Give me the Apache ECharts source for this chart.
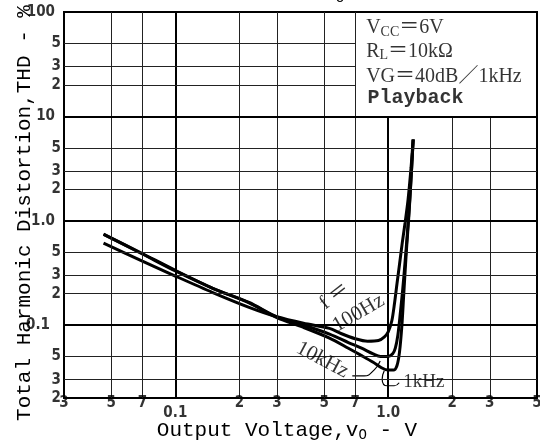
<!DOCTYPE html>
<html>
<head>
<meta charset="utf-8">
<script src="https://cdn.jsdelivr.net/npm/echarts@6/dist/echarts.min.js"></script>
<style>
  html, body { margin: 0; padding: 0; background: #fff; }
  #chart { width: 540px; height: 447px; }
</style>
</head>
<body>
<div id="chart"></div>
<script>
// Axis tick positions and the text printed beside them
const xTickValues = [0.03, 0.05, 0.07, 0.1, 0.2, 0.3, 0.5, 0.7, 1, 2, 3, 5];
const xTickLabels = ['3', '5', '7', '0.1', '2', '3', '5', '7', '1.0', '2', '3', '5'];
const yTickValues = [0.02, 0.03, 0.05, 0.1, 0.2, 0.3, 0.5, 1, 2, 3, 5, 10, 20, 30, 50, 100];
const yTickLabels = ['2', '3', '5', '0.1', '2', '3', '5', '1.0', '2', '3', '5', '10', '2', '3', '5', '100'];
const decadeValues = [0.1, 1, 10, 100];

// THD (%) against output voltage (V) for each test frequency
const curve100Hz = [
  [0.046, 0.61], [0.07, 0.41], [0.1, 0.295], [0.15, 0.205], [0.222, 0.148], [0.3, 0.12],
  [0.4, 0.104], [0.53, 0.093], [0.6, 0.083], [0.7, 0.074], [0.8, 0.07], [0.9, 0.071],
  [0.96, 0.077], [1.0, 0.086], [1.04, 0.11], [1.07, 0.16], [1.1, 0.25], [1.13, 0.38],
  [1.165, 0.62], [1.2, 0.95], [1.24, 1.6], [1.28, 3.2], [1.31, 6.0]
];
const curve1kHz = [
  [0.046, 0.745], [0.07, 0.485], [0.1, 0.335], [0.15, 0.225], [0.222, 0.163], [0.3, 0.118],
  [0.4, 0.095], [0.53, 0.075], [0.65, 0.06], [0.75, 0.051], [0.85, 0.044], [0.93, 0.039],
  [1.0, 0.037], [1.06, 0.037], [1.1, 0.041], [1.13, 0.055], [1.16, 0.1], [1.18, 0.18],
  [1.2, 0.32], [1.22, 0.55], [1.25, 1.1], [1.28, 2.5], [1.31, 6.0]
];
const curve10kHz = [
  [0.046, 0.74], [0.07, 0.48], [0.1, 0.33], [0.15, 0.225], [0.222, 0.165], [0.3, 0.12],
  [0.4, 0.1], [0.53, 0.082], [0.65, 0.068], [0.75, 0.06], [0.85, 0.053], [0.92, 0.05],
  [1.0, 0.05], [1.05, 0.053], [1.08, 0.06], [1.11, 0.08], [1.14, 0.13], [1.17, 0.22],
  [1.2, 0.4], [1.23, 0.75], [1.26, 1.5], [1.29, 3.3], [1.31, 6.0]
];

// Leader lines from the frequency labels to their curves
const leader10kHz = [[0.678, 0.0326], [0.771, 0.0326], [0.86, 0.0372], [0.917, 0.0453]];
const leader1kHz = [[0.958, 0.0364], [0.937, 0.0305], [0.989, 0.0262], [1.068, 0.0262], [1.126, 0.028]];

const X_MIN = 0.03, X_MAX = 5, Y_MIN = 0.02, Y_MAX = 100;
// The conditions box occupies the upper-right corner of the plot
const BOX_X = 0.7, BOX_Y = 10;

const serif = "'Liberation Serif', 'DejaVu Serif', 'Noto Sans CJK JP', serif";
const mono = "'Liberation Mono', 'DejaVu Sans Mono', monospace";
const tickFont = "'Liberation Sans Narrow', 'DejaVu Sans Condensed', 'Liberation Sans', sans-serif";

function isDecade(v) {
  return decadeValues.some(d => Math.abs(d - v) < 1e-9);
}

// Grid lines, stopping short of the conditions box
const gridLines = [];
xTickValues.forEach(v => {
  if (v <= X_MIN || v >= X_MAX) return;
  const top = v > BOX_X + 1e-9 ? BOX_Y : Y_MAX;
  gridLines.push([
    { coord: [v, Y_MIN], lineStyle: { width: isDecade(v) ? 2 : 1, color: isDecade(v) ? '#000' : '#222' } },
    { coord: [v, top] }
  ]);
});
yTickValues.forEach(v => {
  if (v <= Y_MIN || v >= Y_MAX) return;
  const right = v > BOX_Y + 1e-9 ? BOX_X : X_MAX;
  gridLines.push([
    { coord: [X_MIN, v], lineStyle: { width: isDecade(v) ? 2 : 1, color: isDecade(v) ? '#000' : '#222' } },
    { coord: [right, v] }
  ]);
});

const xLabelItems = xTickValues.map((v, i) => ({
  value: [v, Y_MIN],
  label: { formatter: xTickLabels[i], offset: [0, isDecade(v) ? 15 : 5] }
}));
const yLabelItems = yTickValues.map((v, i) => {
  const txt = yTickLabels[i];
  let dx = -3;
  if (txt === '10' || txt === '100' || txt === '1.0') dx = -9;
  if (txt === '0.1') dx = -14;
  return { value: [X_MIN, v], label: { formatter: txt, align: 'right', offset: [dx, 0] } };
});

function curveSeries(name, data) {
  return {
    name, type: 'line', data, symbol: 'none', smooth: 0.3, z: 3,
    lineStyle: { color: '#000', width: 3 }, clip: true
  };
}
function leaderSeries(data) {
  return {
    type: 'line', data, symbol: 'none', smooth: 0.5, z: 3,
    lineStyle: { color: '#000', width: 1.2 }
  };
}

function note(x, y, text, opts) {
  return { value: [x, y], label: Object.assign({ formatter: text }, opts || {}) };
}

const chart = echarts.init(document.getElementById('chart'), null, { renderer: 'canvas' });
chart.setOption({
  animation: false,
  backgroundColor: '#fff',
  grid: { left: 64, right: 3, top: 12, bottom: 49, show: true, borderColor: '#000', borderWidth: 2, backgroundColor: 'transparent' },
  xAxis: {
    type: 'log', logBase: 10, min: X_MIN, max: X_MAX,
    axisLine: { show: false }, axisTick: { show: false }, axisLabel: { show: false }, splitLine: { show: false }
  },
  yAxis: {
    type: 'log', logBase: 10, min: Y_MIN, max: Y_MAX,
    axisLine: { show: false }, axisTick: { show: false }, axisLabel: { show: false }, splitLine: { show: false }
  },
  series: [
    {
      type: 'scatter', symbolSize: 0, clip: false, silent: true, z: 5,
      data: xLabelItems.concat(yLabelItems),
      label: {
        show: true, position: 'inside', color: '#000',
        fontFamily: tickFont, fontWeight: 'bold', fontSize: 15
      },
      markLine: {
        silent: true, symbol: 'none', animation: false,
        label: { show: false }, lineStyle: { type: 'solid', color: '#222', width: 1 },
        data: gridLines
      }
    },
    curveSeries('100Hz', curve100Hz),
    curveSeries('1kHz', curve1kHz),
    curveSeries('10kHz', curve10kHz),
    leaderSeries(leader10kHz),
    leaderSeries(leader1kHz),
    {
      type: 'scatter', symbolSize: 0, clip: false, silent: true, z: 6,
      label: {
        show: true, position: 'inside', color: '#000', fontFamily: serif, fontSize: 18,
        rich: {
          s: { fontFamily: serif, fontSize: 14, padding: [9, 0, 0, 0], color: '#000' },
          m: { fontFamily: serif, fontSize: 20, color: '#000' },
          b: { fontFamily: mono, fontSize: 20, fontWeight: 'bold', color: '#000' }
        }
      },
      data: [
        note(0.56, 0.19, 'f ＝', { rotate: 38, fontSize: 20 }),
        note(0.725, 0.13, '100Hz', { rotate: 30, fontSize: 21 }),
        note(0.49, 0.0463, '10kHz', { rotate: -28, fontSize: 21 }),
        note(1.47, 0.0285, '1kHz', { fontSize: 19 }),
        note(0.788, 70, '{m|V}{s|CC}{m|＝6V}', { align: 'left' }),
        note(0.788, 42, '{m|R}{s|L}{m|＝10kΩ}', { align: 'left' }),
        note(0.788, 24, '{m|VG＝40dB／1kHz}', { align: 'left' }),
        note(0.8, 15.1, '{b|Playback}', { align: 'left' })
      ]
    }
  ],
  graphic: [
    {
      type: 'text', x: 287, y: 430,
      style: {
        text: '{t|Output Voltage,v}{s|O}{t| - V}',
        align: 'center', verticalAlign: 'middle',
        rich: {
          t: { fontFamily: mono, fontSize: 21, fill: '#000' },
          s: { fontFamily: mono, fontSize: 14, fill: '#000', padding: [10, 0, 0, 0] }
        }
      }
    },
    {
      type: 'text', x: 24, y: 213, rotation: Math.PI / 2,
      style: {
        text: 'Total Harmonic Distortion,THD - %', fontFamily: mono, fontSize: 21,
        fill: '#000', align: 'center', verticalAlign: 'middle'
      }
    },
    {
      type: 'text', x: 340, y: -9,
      style: { text: 'O', fontFamily: mono, fontSize: 15, fill: '#000', align: 'center', verticalAlign: 'top' }
    }
  ]
});
</script>
</body>
</html>
